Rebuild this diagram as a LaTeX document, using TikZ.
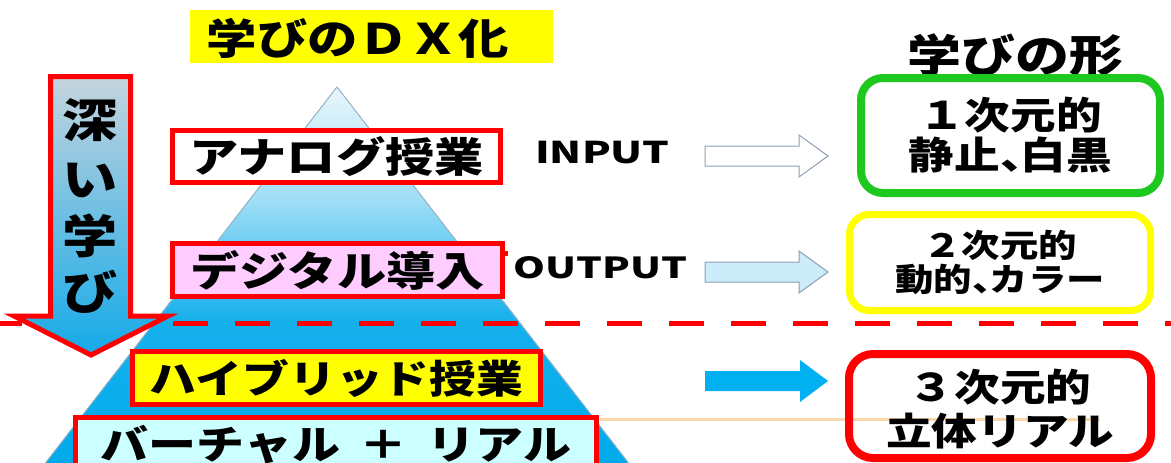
\documentclass[tikz,border=0pt]{standalone}
\usepackage{fontspec}
\newfontfamily\jpf[FakeStretch=1.2]{Noto Sans CJK JP}
\newfontfamily\latf[FakeStretch=1.4]{Noto Sans CJK JP}
\definecolor{myred}{RGB}{255,0,0}
\definecolor{mygreen}{RGB}{30,200,30}
\definecolor{myyellow}{RGB}{255,255,0}
\definecolor{mypink}{RGB}{255,204,255}
\definecolor{mycyan}{RGB}{204,255,255}
\definecolor{pyrA}{RGB}{232,246,252}
\definecolor{pyrB}{RGB}{160,222,246}
\definecolor{pyrC}{RGB}{22,176,236}
\definecolor{pyrD}{RGB}{0,170,235}
\definecolor{pyrline}{RGB}{150,180,200}
\definecolor{arrline}{RGB}{140,160,180}
\definecolor{arrlight}{RGB}{204,236,250}
\definecolor{arrblue}{RGB}{0,176,240}
\definecolor{deepA}{RGB}{198,212,222}
\definecolor{deepB}{RGB}{110,190,228}
\definecolor{deepC}{RGB}{20,170,232}
\definecolor{peach}{RGB}{250,215,170}
\newcommand{\jpsize}[1]{\fontsize{#1}{#1}\selectfont}
\newcommand{\tou}{\makebox[0.55em][l]{、}}
\begin{document}
\begin{tikzpicture}[x=1pt,y=-1pt,
  jptext/.style={font=\jpf\bfseries, text=black, inner sep=0pt},
  pyrbox/.style={draw=myred, line width=5pt, inner sep=0pt, font=\jpf\bfseries\jpsize{41}},
  formbox/.style={draw=#1, rounded corners=22pt, inner sep=0pt, align=center, font=\jpf\bfseries},
  blockarrow/.style={line width=1pt, draw=arrline}
]
\useasboundingbox (0,0) rectangle (1171,463);
\clip (0,0) rectangle (1171,463);

% pyramid
\begin{scope}
  \clip (337,87) -- (40,470) -- (634,470) -- cycle;
  \fill[top color=pyrA, bottom color=pyrB] (0,86) rectangle (700,200);
  \fill[top color=pyrB, bottom color=pyrC] (0,199.5) rectangle (700,320);
  \fill[top color=pyrC, bottom color=pyrD] (0,319.5) rectangle (700,470);
\end{scope}
\draw[pyrline, line width=1pt] (40,470) -- (337,87) -- (634,470);

% dashed divider
\coordinate (dashL) at (-13,323);
\coordinate (dashR) at (1171,323);
\draw[myred, line width=5pt, dash pattern=on 35pt off 27pt] (dashL) -- (dashR);

% title
\fill[myyellow] (190,10) rectangle (553,63);
\node[jptext, font=\jpf\bfseries\jpsize{42}] (title) at (358,38) {学びのＤＸ化};
\node[jptext, font=\jpf\bfseries\jpsize{45}] (form) at (1015,55) {学びの形};

% pyramid boxes
\node[pyrbox, fill=white, minimum width=328pt, minimum height=52pt] (analog) at (336.5,156.5) {アナログ授業};
\node[pyrbox, fill=mypink, minimum width=330pt, minimum height=53pt] (digital) at (337.5,270) {デジタル導入};
\fill[myred] (502,251) rectangle (508,256);
\node[pyrbox, fill=myyellow, minimum width=408pt, minimum height=53pt, font=\jpf\bfseries\jpsize{39}] (hybrid) at (336.5,378) {ハイブリッド授業};
\node[pyrbox, fill=mycyan, minimum width=521pt, minimum height=55pt, font=\jpf\bfseries\jpsize{40}] (virtual) at (336,445) {バーチャル\hspace{0.5em}＋\hspace{0.5em}リアル\hspace{16pt}};

% deep learning arrow
\filldraw[draw=myred, line width=5pt, line join=miter, top color=deepA, middle color=deepB, bottom color=deepC]
  (50.5,76.5) -- (130.5,76.5) -- (130.5,316) -- (168,316) -- (91,355) -- (14,316) -- (50.5,316) -- cycle;
\node[jptext, font=\jpf\bfseries\jpsize{46}] (d1) at (90,120) {深};
\node[jptext, font=\jpf\bfseries\jpsize{46}] (d2) at (90,180) {い};
\node[jptext, font=\jpf\bfseries\jpsize{46}] (d3) at (90,236) {学};
\node[jptext, font=\jpf\bfseries\jpsize{46}] (d4) at (90,292) {び};

% labels
\node[jptext, font=\latf\bfseries\jpsize{30}] (input) at (602.5,153) {INPUT};
\node[jptext, font=\latf\bfseries\jpsize{29}] (output) at (600.5,268) {OUTPUT};

% block arrows
\filldraw[blockarrow, fill=white] (705,146) -- (799,146) -- (799,135) -- (828,156) -- (799,177) -- (799,166) -- (705,166) -- cycle;
\filldraw[blockarrow, fill=arrlight] (705,262) -- (799,262) -- (799,251) -- (828,272) -- (799,293) -- (799,282) -- (705,282) -- cycle;
\fill[arrblue] (705,371) -- (800,371) -- (800,360) -- (828,381) -- (800,402) -- (800,391) -- (705,391) -- cycle;

% orange thin line
\coordinate (peachL) at (600,419);
\coordinate (peachR) at (1100,419);
\draw[peach, line width=3pt] (peachL) -- (peachR);

% forms of learning
\node[formbox=mygreen, line width=8pt, fill=white, minimum width=299pt, minimum height=115pt, font=\jpf\bfseries\fontsize{38}{40}\selectfont] (f1) at (1010.5,135.5) {１次元的\\静止\tou 白黒};
\node[formbox=myyellow, line width=7pt, fill=white, rounded corners=20pt, minimum width=301pt, minimum height=96pt, font=\jpf\bfseries\fontsize{32}{34}\selectfont] (f2) at (1000,262.5) {２次元的\\動的\tou カラー};
\node[formbox=myred, line width=8pt, rounded corners=24pt, minimum width=302pt, minimum height=104pt] (f3) at (1000,406) {};
\node[jptext, align=center, font=\jpf\bfseries\fontsize{38}{44}\selectfont] (f3t) at (1000,409) {３次元的\\立体リアル};
\end{tikzpicture}
\end{document}
